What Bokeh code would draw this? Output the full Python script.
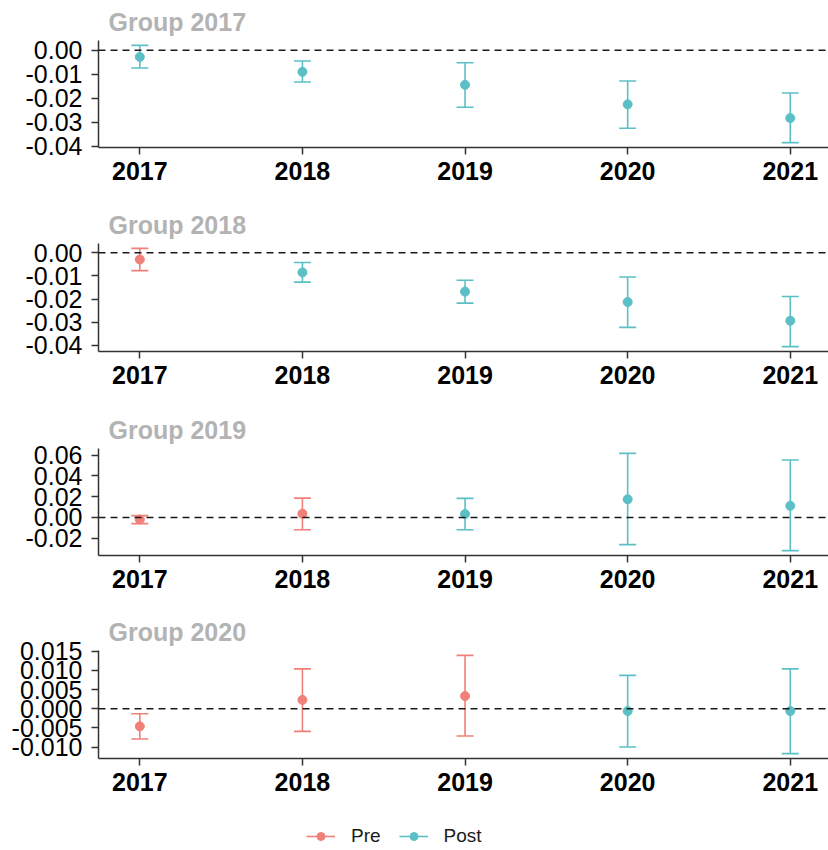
from bokeh.plotting import figure
from bokeh.models import (Range1d, FixedTicker, PrintfTickFormatter, Span,
                          Legend, LegendItem, ColumnDataSource)
from bokeh.layouts import column
from bokeh.embed import file_html
from bokeh.resources import INLINE

# ---------------- data ----------------
years = [2017, 2018, 2019, 2020, 2021]
group_titles = ["Group 2017", "Group 2018", "Group 2019", "Group 2020"]

period_g2017 = ["Post", "Post", "Post", "Post", "Post"]
est_g2017 = [-0.0028, -0.0090, -0.0144, -0.0225, -0.0282]
lo_g2017 = [-0.0074, -0.0132, -0.0237, -0.0324, -0.0384]
hi_g2017 = [0.0020, -0.0045, -0.0052, -0.0128, -0.0178]

period_g2018 = ["Pre", "Post", "Post", "Post", "Post"]
est_g2018 = [-0.0029, -0.0085, -0.0168, -0.0213, -0.0294]
lo_g2018 = [-0.0077, -0.0127, -0.0218, -0.0323, -0.0406]
hi_g2018 = [0.0019, -0.0042, -0.0119, -0.0105, -0.0189]

period_g2019 = ["Pre", "Pre", "Post", "Post", "Post"]
est_g2019 = [-0.0020, 0.0036, 0.0033, 0.0175, 0.0112]
lo_g2019 = [-0.0060, -0.0118, -0.0118, -0.0262, -0.0320]
hi_g2019 = [0.0018, 0.0186, 0.0184, 0.0618, 0.0554]

period_g2020 = ["Pre", "Pre", "Pre", "Post", "Post"]
est_g2020 = [-0.0046, 0.0023, 0.0033, -0.0006, -0.0006]
lo_g2020 = [-0.0079, -0.0059, -0.0071, -0.0100, -0.0117]
hi_g2020 = [-0.0013, 0.0104, 0.0139, 0.0087, 0.0104]

yticks_g2017 = [-0.04, -0.03, -0.02, -0.01, 0.00]
yticks_g2018 = [-0.04, -0.03, -0.02, -0.01, 0.00]
yticks_g2019 = [-0.02, 0.00, 0.02, 0.04, 0.06]
yticks_g2020 = [-0.010, -0.005, 0.000, 0.005, 0.010, 0.015]
yfmt = ["%.2f", "%.2f", "%.2f", "%.3f"]

reference_value = 0.0
period_names = ["Pre", "Post"]

# ---------------- style ----------------
FONT = "Liberation Sans"
COLORS = {"Pre": "#F08078", "Post": "#5BC0C5"}
frame_heights = [107, 108, 107, 108]
border_bottoms = [56, 57, 55, 52]
FRAME_W = 730
X_RANGE = (2016.746, 2021.235)

panels = [
    (group_titles[0], period_g2017, est_g2017, lo_g2017, hi_g2017, yticks_g2017, yfmt[0]),
    (group_titles[1], period_g2018, est_g2018, lo_g2018, hi_g2018, yticks_g2018, yfmt[1]),
    (group_titles[2], period_g2019, est_g2019, lo_g2019, hi_g2019, yticks_g2019, yfmt[2]),
    (group_titles[3], period_g2020, est_g2020, lo_g2020, hi_g2020, yticks_g2020, yfmt[3]),
]

figs = []
sources = {}
for k, (title, period, est, lo, hi, yticks, fmt) in enumerate(panels):
    ymin, ymax = min(lo), max(hi)
    pad = 0.05 * (ymax - ymin)
    p = figure(frame_width=FRAME_W, frame_height=frame_heights[k],
               x_range=Range1d(*X_RANGE),
               y_range=Range1d(ymin - pad, ymax + pad),
               output_backend="svg", toolbar_location=None,
               min_border_left=98, min_border_right=0,
               min_border_top=40, min_border_bottom=border_bottoms[k])
    p.outline_line_color = None
    p.xgrid.visible = False
    p.ygrid.visible = False
    p.background_fill_color = "white"
    p.border_fill_color = "white"

    p.title.text = title
    p.title.text_font = FONT
    p.title.text_font_size = "25px"
    p.title.text_font_style = "bold"
    p.title.text_color = "#B3B3B3"
    p.title.align = "left"
    p.title.offset = 10
    try:
        p.title.standoff = 10
    except Exception:
        pass

    for ax in (p.xaxis[0], p.yaxis[0]):
        ax.axis_line_color = "#333333"
        ax.axis_line_width = 1.5
        ax.major_tick_line_color = "#333333"
        ax.major_tick_line_width = 1.5
        ax.major_tick_in = 0
        ax.major_tick_out = 7
        ax.minor_tick_line_color = None
        ax.major_label_text_font = FONT
        ax.major_label_text_color = "black"

    p.xaxis.ticker = FixedTicker(ticks=years)
    p.xaxis.major_label_text_font_size = "25px"
    p.xaxis.major_label_text_font_style = "bold"
    p.xaxis.major_label_standoff = 7

    p.yaxis.ticker = FixedTicker(ticks=yticks)
    p.yaxis.formatter = PrintfTickFormatter(format=fmt)
    p.yaxis.major_label_text_font_size = "25px"
    p.yaxis.major_label_standoff = 9

    for per in period_names:
        idx = [i for i, v in enumerate(period) if v == per]
        if not idx:
            continue
        src = ColumnDataSource(dict(
            x=[years[i] for i in idx],
            est=[est[i] for i in idx],
            lo=[lo[i] for i in idx],
            hi=[hi[i] for i in idx],
        ))
        sources[per] = src
        c = COLORS[per]
        p.segment(x0="x", y0="lo", x1="x", y1="hi", source=src,
                  line_color=c, line_width=1.6)
        p.scatter(x="x", y="lo", source=src, marker="dash", size=17,
                  line_color=c, line_width=1.6)
        p.scatter(x="x", y="hi", source=src, marker="dash", size=17,
                  line_color=c, line_width=1.6)
        p.scatter(x="x", y="est", source=src, size=9,
                  fill_color=c, line_color=c)

    p.add_layout(Span(location=reference_value, dimension="width",
                      line_color="#1a1a1a", line_width=1.5, line_dash="7 5"))
    figs.append(p)

# ---------------- legend strip ----------------
lg = figure(frame_width=FRAME_W + 98, frame_height=40,
            x_range=Range1d(0, 1), y_range=Range1d(0, 1),
            x_axis_type=None, y_axis_type=None,
            output_backend="svg", toolbar_location=None,
            min_border_left=0, min_border_right=0,
            min_border_top=0, min_border_bottom=0)
lg.outline_line_color = None
lg.xgrid.visible = False
lg.ygrid.visible = False
items = []
for per in period_names:
    c = COLORS[per]
    seg = lg.segment(x0="x", y0="lo", x1="x", y1="hi", source=sources[per],
                     line_color=c, line_width=1.6)
    pt = lg.scatter(x="x", y="est", source=sources[per], size=9,
                    fill_color=c, line_color=c)
    items.append(LegendItem(label=per, renderers=[seg, pt]))

legend = Legend(
    items=items, location=(306, 3), orientation="horizontal",
    padding=0, margin=0, spacing=18, glyph_width=29, glyph_height=20,
    label_height=20, label_standoff=16,
    label_text_font=FONT, label_text_font_size="19px",
    label_text_color="#1a1a1a",
    border_line_color=None, background_fill_alpha=0,
)
lg.add_layout(legend)
figs.append(lg)

layout = column(*figs, spacing=0)
open("out.html", "w").write(file_html(layout, INLINE))
